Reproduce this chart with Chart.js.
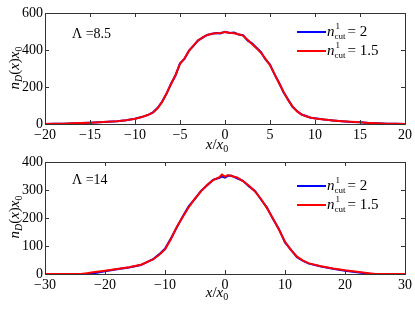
<!DOCTYPE html>
<html lang="en">
<head>
  <meta charset="UTF-8">
  <title>n_D(x) profiles</title>
  <script src="https://cdn.jsdelivr.net/npm/chart.js"></script>
  <style>
    body { margin: 0; background: #fff; }
    #wrap { position: relative; width: 415px; height: 312px; }
    canvas { position: absolute; left: 0; }
    #topChart { top: 0; }
    #botChart { top: 150px; }
    .warm { position: absolute; left: 0; top: 0; font-family: 'Liberation Serif'; font-size: 13px; color: transparent; }
  </style>
</head>
<body>
  <div id="wrap">
    <span class="warm">0123 <i>nx</i></span>
    <canvas id="topChart" width="415" height="158"></canvas>
    <canvas id="botChart" width="415" height="162"></canvas>
  </div>

  <script>
    // Lambda = 8.5 panel
    const xTop = [-20,-19,-18,-17,-16,-15,-14,-13,-12,-11,-10,-9.5,-9,-8.5,-8,-7.5,-7,-6.5,-6,-5.5,-5,-4.5,-4,-3.5,-3,-2.5,-2,-1.5,-1,-0.5,0,0.5,1,1.5,2,2.5,3,3.5,4,4.5,5,5.5,6,6.5,7,7.5,8,8.5,9,9.5,10,11,12,13,14,15,16,17,18,19,20];
    const topCut2  = [0,1,2,3,5,7,9,12,15,20,28,35,41,51,63,86,120,163,218,262,328,352,397,422,452,466,482,487,492,489,499,492,494,484,480,452,436,412,388,349,321,268,224,172,133,93,70,51,43,34,31,24,19,15,11,9,6,4,2,1,0];
    const topCut15 = [0,1,2,4,5,7,9,12,15,20,28,34,42,50,62,85,118,165,215,265,325,355,395,425,450,468,480,488,490,492,497,493,490,485,478,455,432,410,385,352,318,270,220,175,130,95,68,52,42,35,30,24,19,15,12,9,6,4,2,1,0];

    // Lambda = 14 panel
    const xBot = [-30,-28,-26,-24,-23,-22,-20,-18,-16,-14,-12,-11,-10,-9,-8,-7,-6,-5,-4,-3,-2,-1,-0.5,0,0.5,1,2,3,4,5,6,7,8,9,10,11,12,13,14,16,18,20,22,24,25,26,28,30];
    const botCut2  = [0,0,0,0,0,2,10,17,23,32,53,70,90,128,168,207,243,268,297,316,336,343,348,344,350,352,342,333,313,297,266,237,196,160,113,86,60,47,37,27,19,12,6,1,0,0,0,0];
    const botCut15 = [0,0,0,0,3,6,12,18,24,33,52,68,88,125,170,205,240,270,295,318,335,345,355,348,353,350,345,332,315,295,268,235,198,158,115,85,62,48,38,28,20,13,8,3,0,0,0,0];

    const topTicksX = [-20,-15,-10,-5,0,5,10,15,20];
    const topTicksY = [0,200,400,600];
    const botTicksX = [-30,-20,-10,0,10,20,30];
    const botTicksY = [0,100,200,300,400];

    const legendLabels = ['2', '1.5'];
    const colors = ['#0000ff', '#ff0000'];
    const serif = "'Liberation Serif', serif";

    function pts(xs, ys) {
      return xs.map((x, i) => ({ x: x, y: ys[i] }));
    }

    // draw a run of text pieces left to right: [text, size, italic, dy]
    function drawRun(ctx, parts, x, y, measureOnly) {
      let cx = x;
      for (const p of parts) {
        ctx.font = (p[2] ? 'italic ' : '') + p[1] + 'px ' + serif;
        if (!measureOnly) ctx.fillText(p[0], cx, y + (p[3] || 0));
        cx += ctx.measureText(p[0]).width;
      }
      return cx - x;
    }

    function makePlugin(opts) {
      return {
        id: 'matlabFrame',
        afterDraw(chart) {
          const ctx = chart.ctx;
          const a = chart.chartArea;
          const xs = chart.scales.x, ys = chart.scales.y;
          ctx.save();
          ctx.strokeStyle = '#333';
          ctx.lineWidth = 1;
          ctx.strokeRect(Math.round(a.left) + 0.5, Math.round(a.top) + 0.5,
                         Math.round(a.right - a.left), Math.round(a.bottom - a.top));
          ctx.beginPath();
          for (const t of xs.ticks) {
            const px = Math.round(xs.getPixelForValue(t.value)) + 0.5;
            ctx.moveTo(px, a.bottom); ctx.lineTo(px, a.bottom - 4);
            ctx.moveTo(px, a.top); ctx.lineTo(px, a.top + 4);
          }
          for (const t of ys.ticks) {
            const py = Math.round(ys.getPixelForValue(t.value)) + 0.5;
            ctx.moveTo(a.left, py); ctx.lineTo(a.left + 4, py);
            ctx.moveTo(a.right, py); ctx.lineTo(a.right - 4, py);
          }
          ctx.stroke();

          ctx.fillStyle = '#000';
          ctx.textBaseline = 'alphabetic';
          ctx.textAlign = 'left';

          drawRun(ctx, [['\u039B =' + opts.lambda, 14, false]], 72, a.top + opts.lamDy);

          for (let i = 0; i < 2; i++) {
            const ly = a.top + opts.legY + i * 19;
            ctx.strokeStyle = colors[i];
            ctx.lineWidth = 2;
            ctx.beginPath();
            ctx.moveTo(297, ly); ctx.lineTo(326, ly);
            ctx.stroke();
            const base = ly + 4;
            let cx = 327;
            cx += drawRun(ctx, [['n', 15, true]], cx, base);
            ctx.font = '9px ' + serif;
            ctx.fillText('1', cx + 1, base - 7);
            drawRun(ctx, [['cut', 9, false]], cx, base + 3);
            cx += ctx.measureText('cut').width + 2;
            drawRun(ctx, [['= ' + legendLabels[i], 15, false]], cx, base);
          }

          const xParts = [['x', 15, true], ['/', 15, false], ['x', 15, true], ['0', 10, false, 3]];
          const xw = drawRun(ctx, xParts, 0, 0, true);
          drawRun(ctx, xParts, 217 - xw / 2, opts.xTitleY);

          const yParts = [['n', 15, true], ['D', 10, true, 3], ['(', 15, false], ['x', 15, true], [')', 15, false], ['x', 15, true], ['0', 10, false, 3]];
          const yw = drawRun(ctx, yParts, 0, 0, true);
          ctx.translate(19, a.top + 55);
          ctx.rotate(-Math.PI / 2);
          drawRun(ctx, yParts, -yw / 2, 0);
          ctx.restore();
        }
      };
    }

    function makeChart(id, xs, s1, s2, xTicks, yTicks, topPad, xAxisH, opts) {
      const minus = v => String(v).replace('-', '\u2212');
      return new Chart(document.getElementById(id), {
        type: 'line',
        data: {
          datasets: [
            { label: 'cut2', data: pts(xs, s1), borderColor: colors[0], borderWidth: 2, pointRadius: 0, fill: false, order: 1 },
            { label: 'cut1.5', data: pts(xs, s2), borderColor: colors[1], borderWidth: 2, pointRadius: 0, fill: false, order: 0 }
          ]
        },
        options: {
          responsive: false,
          animation: false,
          layout: { padding: { top: topPad, right: 9, left: 0, bottom: 0 } },
          plugins: { legend: { display: false }, tooltip: { enabled: false } },
          scales: {
            x: {
              type: 'linear',
              min: xTicks[0], max: xTicks[xTicks.length - 1],
              afterBuildTicks: s => { s.ticks = xTicks.map(v => ({ value: v })); },
              afterFit: s => { s.height = xAxisH; },
              grid: { display: false, drawTicks: false },
              border: { display: false },
              ticks: { color: '#000', padding: 3, maxRotation: 0, font: { family: serif, size: 14 }, callback: minus }
            },
            y: {
              min: yTicks[0], max: yTicks[yTicks.length - 1],
              afterBuildTicks: s => { s.ticks = yTicks.map(v => ({ value: v })); },
              afterFit: s => { s.width = 45; },
              grid: { display: false, drawTicks: false },
              border: { display: false },
              ticks: { color: '#000', padding: 2, font: { family: serif, size: 14 }, callback: minus }
            }
          }
        },
        plugins: [makePlugin(opts)]
      });
    }

    Chart.defaults.font.family = serif;
    document.body.offsetHeight;
    makeChart('topChart', xTop, topCut2, topCut15, topTicksX, topTicksY, 13, 34,
      { lambda: '8.5', lamDy: 25, legY: 19, xTitleY: 149 });
    makeChart('botChart', xBot, botCut2, botCut15, botTicksX, botTicksY, 12, 38,
      { lambda: '14', lamDy: 22, legY: 24, xTitleY: 147 });
  </script>
</body>
</html>
